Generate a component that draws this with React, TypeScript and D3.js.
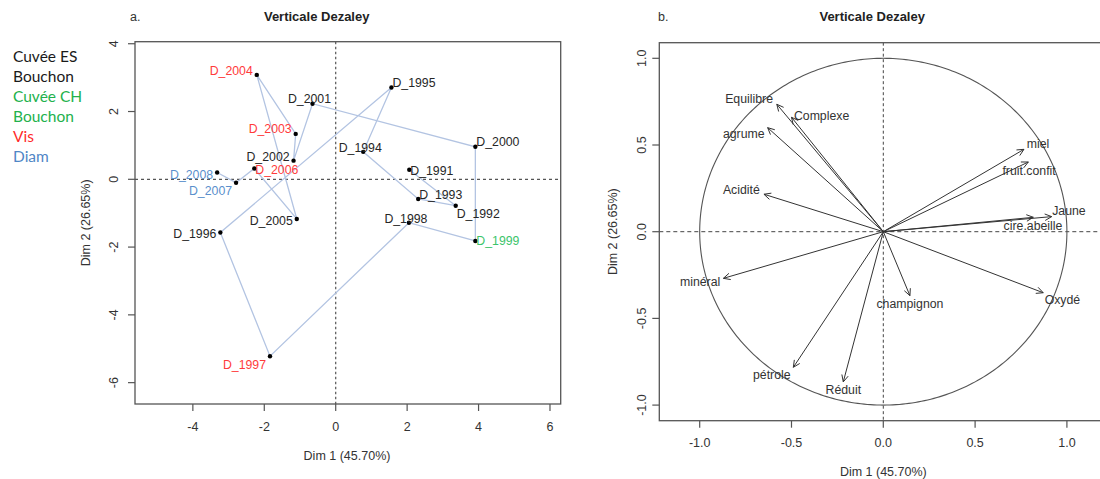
import React from "react";
import * as d3 from "d3";

// ---------- Data: panel a (individuals) ----------
const years = ["D_1991","D_1992","D_1993","D_1994","D_1995","D_1996","D_1997","D_1998","D_1999","D_2000","D_2001","D_2002","D_2003","D_2004","D_2005","D_2006","D_2007","D_2008"];
const dim1 = [2.06, 3.36, 2.31, 0.77, 1.56, -3.23, -1.84, 2.05, 3.91, 3.91, -0.65, -1.18, -1.12, -2.21, -1.09, -2.28, -2.79, -3.32];
const dim2 = [0.28, -0.78, -0.58, 0.81, 2.71, -1.57, -5.22, -1.28, -1.82, 0.96, 2.23, 0.55, 1.34, 3.08, -1.17, 0.32, -0.10, 0.20];
const closure = ["ES","ES","ES","ES","ES","ES","Vis","ES","CH","ES","ES","ES","Vis","Vis","ES","Vis","Diam","Diam"];
const xTicksA = [-4, -2, 0, 2, 4, 6];
const yTicksA = [-6, -4, -2, 0, 2, 4];

// ---------- Data: panel b (variables) ----------
const variables = ["Equilibre","Complexe","agrume","Acidité","miel","fruit.confit","Jaune","cire.abeille","Oxydé","minéral","champignon","pétrole","Réduit"];
const varDim1 = [-0.58, -0.50, -0.63, -0.65, 0.766, 0.79, 0.917, 0.817, 0.871, -0.871, 0.145, -0.49, -0.218];
const varDim2 = [0.735, 0.66, 0.60, 0.216, 0.475, 0.402, 0.087, 0.083, -0.352, -0.269, -0.369, -0.782, -0.866];
const ticksB = [-1.0, -0.5, 0.0, 0.5, 1.0];

// ---------- Legend ----------
const legendLines = ["Cuvée ES", "Bouchon", "Cuvée CH", "Bouchon", "Vis", "Diam"];
const legendGroups = ["ES", "ES", "CH", "CH", "Vis", "Diam"];

// ---------- Styles / layout (not data) ----------
const groupColor: Record<string, string> = { ES: "#1a1a1a", CH: "#22b14c", Vis: "#ff2a2a", Diam: "#4f86c6" };
const labelColor: Record<string, string> = { ES: "#262626", CH: "#3cc46a", Vis: "#ff3b3b", Diam: "#5a8fcc" };
// label placement for individuals: side + vertical shift of label center (px)
const labelSide = ["R","R","R","C","R","L","L","C","R","R","C","L","L","L","L","R","L","L"];
const labelShift = [1, 7.7, -4.7, -4.7, -5, 1, 8, -4.4, 0, -5, -5, -4.3, -5, -4.7, 1.7, 1.3, 8, 1.6];
// label offset (px) for variable arrows, label center relative to arrow tip
const varLabelDx = [-27.7, 30.1, -23.9, -22.6, 14, 0.7, 17.3, -0.3, 19.2, -23.3, 0, -21.5, 0];
const varLabelDy = [-6, -1.3, 6.3, -5, -5.3, 8.7, -5.7, 8.4, 6.6, 3.4, 7.6, 7.7, 7.6];

const FONT = "'Liberation Sans', Arial, Helvetica, sans-serif";
const AXIS = "#555";
const TXT = "#333";

const fmt1 = (t: number) => t.toFixed(1);

export default function App() {
  // Panel a scales
  const ax = d3.scaleLinear().domain([-5.62, 6.30]).range([135, 560.7]);
  const ay = d3.scaleLinear().domain([-6.63, 4.06]).range([404, 41.7]);
  // Panel b scales
  const bx = d3.scaleLinear().domain([-1.22, 1.22]).range([659.3, 1107.3]);
  const by = d3.scaleLinear().domain([-1.09, 1.09]).range([420.7, 42.7]);

  const pathLine = d3.line<number>().x((i) => ax(dim1[i])).y((i) => ay(dim2[i]));
  const pathD = pathLine(years.map((_, i) => i)) || "";

  const circle = d3
    .line<number>()
    .x((t) => bx(Math.cos(t)))
    .y((t) => by(Math.sin(t)))
    .curve(d3.curveLinearClosed)(d3.range(0, 2 * Math.PI, Math.PI / 180)) || "";

  const arrowHead = (x1: number, y1: number, x2: number, y2: number) => {
    const ang = Math.atan2(y2 - y1, x2 - x1);
    const len = 7.5;
    const spread = Math.PI / 7;
    const p1 = [x2 - len * Math.cos(ang - spread), y2 - len * Math.sin(ang - spread)];
    const p2 = [x2 - len * Math.cos(ang + spread), y2 - len * Math.sin(ang + spread)];
    return `M${p1[0]},${p1[1]}L${x2},${y2}L${p2[0]},${p2[1]}`;
  };

  return (
    <svg width={1100} height={479} style={{ display: "block", position: "absolute", left: 0, top: 0, background: "#fff" }} fontFamily={FONT}>
      {/* Legend */}
      {legendLines.map((t, i) => (
        <text key={"lg" + i} x={13} y={62 + i * 20} fontFamily="Lato, 'Open Sans', sans-serif" fontSize={15.5} fill={groupColor[legendGroups[i]]}>
          {t}
        </text>
      ))}

      {/* ---------- Panel a ---------- */}
      <text x={130} y={20.5} fontSize={12.5} fill={TXT}>a.</text>
      <text x={316.7} y={20.5} fontSize={13} fontWeight="bold" textAnchor="middle" fill="#222">Verticale Dezaley</text>

      {/* reference lines */}
      <line x1={ax(0)} x2={ax(0)} y1={41.7} y2={404} stroke="#555" strokeDasharray="2.5,2.5" strokeWidth={1.2} />
      <line x1={135} x2={560.7} y1={ay(0)} y2={ay(0)} stroke="#555" strokeDasharray="3,3" strokeWidth={1.2} />

      {/* trajectory */}
      <path d={pathD} fill="none" stroke="#b3c4e2" strokeWidth={1.3} />

      {/* points + labels */}
      {years.map((y, i) => {
        const px = ax(dim1[i]);
        const py = ay(dim2[i]);
        const side = labelSide[i];
        const tx = side === "L" ? px - 4 : side === "R" ? px + 1 : px - 3;
        const anchor = side === "L" ? "end" : side === "R" ? "start" : "middle";
        return (
          <g key={y}>
            <circle cx={px} cy={py} r={2.2} fill="#000" />
            <text x={tx} y={py + labelShift[i] + 4.5} fontSize={12.3} textAnchor={anchor} fill={labelColor[closure[i]]}>
              {y}
            </text>
          </g>
        );
      })}

      {/* box & axes */}
      <rect x={135} y={41.7} width={560.7 - 135} height={404 - 41.7} fill="none" stroke={AXIS} strokeWidth={1.3} />
      {xTicksA.map((t) => (
        <g key={"xa" + t}>
          <line x1={ax(t)} x2={ax(t)} y1={404} y2={411} stroke={AXIS} strokeWidth={1.2} />
          <text x={ax(t)} y={431} fontSize={12.5} textAnchor="middle" fill={TXT}>{String(t)}</text>
        </g>
      ))}
      {yTicksA.map((t) => (
        <g key={"ya" + t}>
          <line x1={128} x2={135} y1={ay(t)} y2={ay(t)} stroke={AXIS} strokeWidth={1.2} />
          <text transform={`translate(117.5,${ay(t)}) rotate(-90)`} fontSize={12.5} textAnchor="middle" fill={TXT}>{String(t)}</text>
        </g>
      ))}
      <text x={347} y={459.5} fontSize={12.5} textAnchor="middle" fill={TXT}>Dim 1 (45.70%)</text>
      <text transform={`translate(89.5,${(41.7 + 404) / 2}) rotate(-90)`} fontSize={12.5} textAnchor="middle" fill={TXT}>Dim 2 (26.65%)</text>

      {/* ---------- Panel b ---------- */}
      <text x={658} y={20.5} fontSize={12.5} fill={TXT}>b.</text>
      <text x={872.2} y={20.5} fontSize={13} fontWeight="bold" textAnchor="middle" fill="#222">Verticale Dezaley</text>

      <line x1={bx(0)} x2={bx(0)} y1={42.7} y2={420.7} stroke="#444" strokeDasharray="3,2.5" strokeWidth={1} />
      <line x1={659.3} x2={1107} y1={by(0)} y2={by(0)} stroke="#444" strokeDasharray="4,3" strokeWidth={1} />

      <path d={circle} fill="none" stroke="#555" strokeWidth={1.1} />

      {variables.map((v, i) => {
        const x1 = bx(0), y1 = by(0);
        const x2 = bx(varDim1[i]), y2 = by(varDim2[i]);
        return (
          <g key={v}>
            <line x1={x1} y1={y1} x2={x2} y2={y2} stroke="#333" strokeWidth={1} />
            <path d={arrowHead(x1, y1, x2, y2)} fill="none" stroke="#333" strokeWidth={1} />
            <text x={x2 + varLabelDx[i]} y={y2 + varLabelDy[i] + 4.3} fontSize={12.3} textAnchor="middle" fill="#333">
              {v}
            </text>
          </g>
        );
      })}

      <rect x={659.3} y={42.7} width={1107.3 - 659.3} height={420.7 - 42.7} fill="none" stroke={AXIS} strokeWidth={1.3} />
      {ticksB.map((t) => (
        <g key={"xb" + t}>
          <line x1={bx(t)} x2={bx(t)} y1={420.7} y2={427.7} stroke={AXIS} strokeWidth={1.2} />
          <text x={bx(t)} y={447} fontSize={12.5} textAnchor="middle" fill={TXT}>{fmt1(t)}</text>
        </g>
      ))}
      {ticksB.map((t) => (
        <g key={"yb" + t}>
          <line x1={652.3} x2={659.3} y1={by(t)} y2={by(t)} stroke={AXIS} strokeWidth={1.2} />
          <text transform={`translate(646,${by(t)}) rotate(-90)`} fontSize={12.5} textAnchor="middle" fill={TXT}>{fmt1(t)}</text>
        </g>
      ))}
      <text x={883.3} y={476} fontSize={12.5} textAnchor="middle" fill={TXT}>Dim 1 (45.70%)</text>
      <text transform={`translate(617,${(42.7 + 420.7) / 2}) rotate(-90)`} fontSize={12.5} textAnchor="middle" fill={TXT}>Dim 2 (26.65%)</text>
    </svg>
  );
}
